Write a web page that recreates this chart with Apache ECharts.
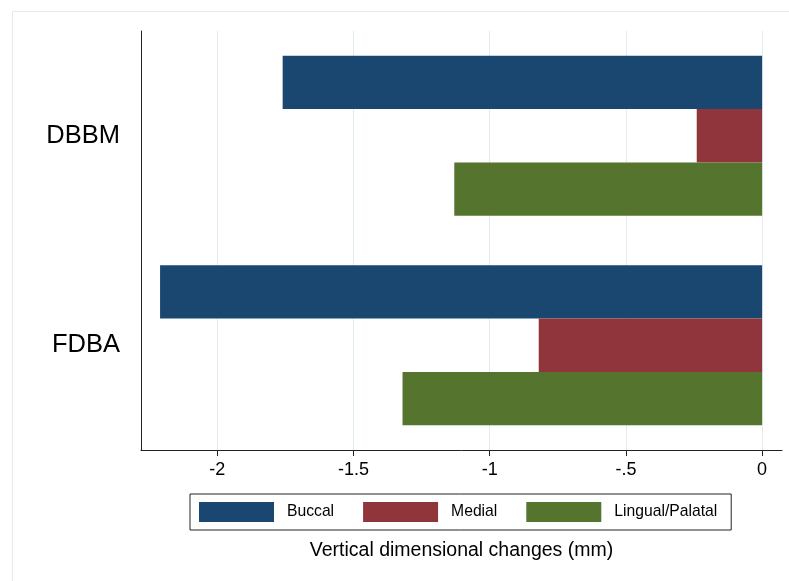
<!DOCTYPE html>
<html>
<head>
<meta charset="utf-8">
<script src="https://cdn.jsdelivr.net/npm/echarts@6/dist/echarts.min.js"></script>
<style>
  html, body { margin: 0; padding: 0; background: #ffffff; }
  #chart { width: 789px; height: 581px; }
</style>
</head>
<body>
<div id="chart"></div>
<script>
// Graft materials and the vertical change measured at each site (mm)
const categories = ['DBBM', 'FDBA'];
const buccal = [-1.76, -2.21];
const medial = [-0.24, -0.82];
const lingualPalatal = [-1.13, -1.32];
const tickValues = [-2, -1.5, -1, -0.5, 0];
const seriesNames = ['Buccal', 'Medial', 'Lingual/Palatal'];

const FONT = '"Liberation Sans", Arial, Helvetica, sans-serif';
const colors = ['#1a476f', '#90353b', '#55752f'];

const chart = echarts.init(document.getElementById('chart'), null, { renderer: 'canvas' });

const barSeries = (name, data, color) => ({
  name: name,
  type: 'bar',
  data: data,
  barGap: '0%',
  barCategoryGap: '23.6%',
  itemStyle: { color: color },
  emphasis: { disabled: true },
  animation: false
});

const option = {
  backgroundColor: '#ffffff',
  animation: false,
  textStyle: { fontFamily: FONT },
  graphic: [{
    type: 'rect',
    silent: true,
    z: -10,
    shape: { x: 12.5, y: 11.5, width: 820, height: 620 },
    style: { fill: 'none', stroke: '#e4ebed', lineWidth: 1 }
  }],
  grid: { left: 141, right: 7, top: 31, bottom: 131, containLabel: false },
  legend: {
    left: 190,
    top: 494,
    orient: 'horizontal',
    icon: 'rect',
    itemWidth: 75,
    itemHeight: 20,
    itemGap: 29,
    padding: [8, 14, 8, 9],
    borderColor: '#222',
    borderWidth: 1,
    selectedMode: false,
    data: seriesNames,
    textStyle: { fontFamily: FONT, fontSize: 15.7, color: '#000', padding: [0, 0, 0, 8] }
  },
  xAxis: {
    type: 'value',
    min: -2.28,
    max: 0.073,
    name: 'Vertical dimensional changes (mm)',
    nameLocation: 'middle',
    nameGap: 91,
    nameTextStyle: { fontFamily: FONT, fontSize: 19.5, color: '#000' },
    axisLine: { show: true, lineStyle: { color: '#222', width: 1 } },
    axisTick: { show: true, length: 6, lineStyle: { color: '#222' }, customValues: tickValues },
    axisLabel: {
      fontFamily: FONT, fontSize: 18, color: '#000', margin: 11,
      customValues: tickValues,
      formatter: v => (v === 0 ? '0' : String(v).replace('0.', '.'))
    },
    splitLine: { show: true, lineStyle: { color: '#e2ecee', width: 1 } }
  },
  yAxis: {
    type: 'category',
    inverse: true,
    data: categories,
    axisLine: { show: true, onZero: false, lineStyle: { color: '#222', width: 1 } },
    axisTick: { show: false },
    axisLabel: { fontFamily: FONT, fontSize: 25.5, color: '#000', margin: 21 },
    splitLine: { show: false }
  },
  series: [
    barSeries(seriesNames[0], buccal, colors[0]),
    barSeries(seriesNames[1], medial, colors[1]),
    barSeries(seriesNames[2], lingualPalatal, colors[2])
  ]
};

chart.setOption(option);
</script>
</body>
</html>
